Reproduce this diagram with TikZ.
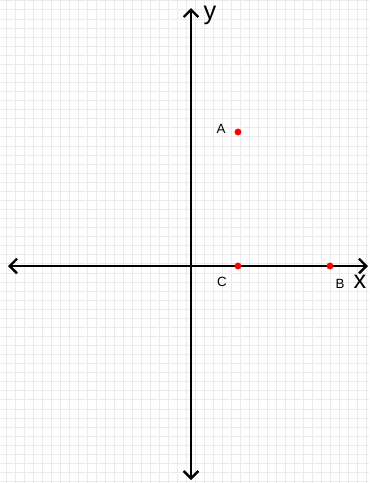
\documentclass[tikz,border=0pt]{standalone}
\usepackage{fontspec}
\setmainfont{Liberation Sans}
\usetikzlibrary{arrows.meta}
\begin{document}
\begin{tikzpicture}[x=0.75pt,y=-0.75pt,
  gridline/.style={draw=black!8,line width=0.6pt},
  axis/.style={draw=black,line width=2.1pt,{Straight Barb[length=5.5pt,width=11pt,line width=1.8pt]}-{Straight Barb[length=5.5pt,width=11pt,line width=1.8pt]}},
  pt/.style={circle,fill=red,inner sep=0pt,minimum size=5.2pt},
  lbl/.style={inner sep=0pt,font=\fontsize{10}{12}\selectfont},
  biglbl/.style={inner sep=0pt,font=\fontsize{19}{21}\selectfont}]
\useasboundingbox (0,0) rectangle (369,483);
\fill[white] (0,0) rectangle (369,483);
\foreach \i in {0,...,40} \draw[gridline] (6.7+8.99*\i,0) -- (6.7+8.99*\i,483);
\foreach \j in {0,...,53} \draw[gridline] (0,0.8+9.07*\j) -- (369,0.8+9.07*\j);
\coordinate (yt) at (191,8);
\coordinate (yb) at (191,480);
\coordinate (xl) at (8,266);
\coordinate (xr) at (368,266);
\draw[axis] (yb) -- (yt);
\draw[axis] (xl) -- (xr);
\node[pt] (A) at (238,132) {};
\node[pt] (C) at (238,266) {};
\node[pt] (B) at (330,266) {};
\node[lbl] (lA) at (221,129) {A};
\node[lbl] (lC) at (222,282) {C};
\node[lbl] (lB) at (340,284) {B};
\node[biglbl] (ly) at (210,15) {y};
\node[biglbl] (lx) at (360,282) {x};
\end{tikzpicture}
\end{document}
